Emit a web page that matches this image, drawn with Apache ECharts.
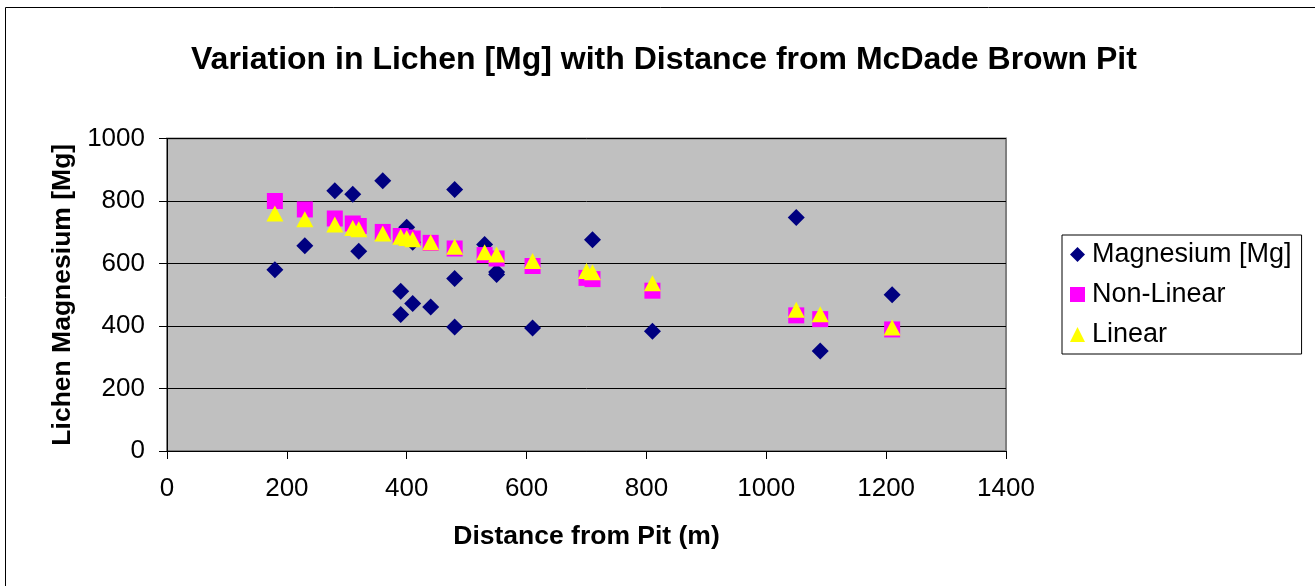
<!DOCTYPE html>
<html>
<head>
<meta charset="utf-8">
<script src="https://cdn.jsdelivr.net/npm/echarts@6/dist/echarts.min.js"></script>
<style>
  html, body { margin: 0; padding: 0; background: #ffffff; }
  #chart { width: 1315px; height: 586px; }
</style>
</head>
<body>
<div id="chart"></div>
<script>
// Measured lichen magnesium against distance from the pit
const mgDistance = [180, 230, 280, 310, 320, 360, 390, 390, 400, 410, 410, 440, 480, 480, 480, 530, 550, 550, 610, 710, 810, 1050, 1090, 1210];
const mgValue    = [580, 657, 833, 822, 639, 865, 511, 437, 716, 668, 472, 461, 837, 552, 397, 661, 573, 565, 394, 676, 383, 747, 320, 500];

// Fitted models evaluated at the sampled distances
const fitDistance    = [180, 230, 280, 310, 320, 360, 390, 400, 410, 440, 480, 530, 550, 610, 700, 710, 810, 1050, 1090, 1210];
const nonLinearValue = [800, 773, 744, 728, 720, 701, 688, 683, 680, 666, 648, 627, 616, 592, 554, 550, 513, 434, 422, 389];
const linearValue    = [760, 742, 725, 714, 710, 696, 686, 682, 678, 668, 654, 636, 629, 608, 576, 572, 537, 452, 438, 395];

const seriesNames = ['Magnesium [Mg]', 'Non-Linear', 'Linear'];
const xTicks = { min: 0, max: 1400, interval: 200 };
const yTicks = { min: 0, max: 1000, interval: 200 };

const FONT = '"Liberation Sans", Arial, Helvetica, sans-serif';

function pairs(xs, ys) {
  return xs.map((x, i) => [x, ys[i]]);
}

// plain integers, no thousands separator
const plain = (v) => String(v);

const chart = echarts.init(document.getElementById('chart'), null, { renderer: 'canvas' });

chart.setOption({
  backgroundColor: '#ffffff',
  animation: false,
  title: {
    text: 'Variation in Lichen [Mg] with Distance from McDade Brown Pit',
    left: 186,
    top: 39,
    textStyle: { fontFamily: FONT, fontSize: 32, fontWeight: 'bold', color: '#000000' }
  },
  graphic: [
    {
      // outer chart frame
      type: 'rect',
      silent: true,
      z: -10,
      shape: { x: 5.5, y: 7.5, width: 1330, height: 600 },
      style: { fill: 'none', stroke: '#000000', lineWidth: 1 }
    }
  ],
  legend: {
    orient: 'vertical',
    left: 1062,
    top: 235,
    data: seriesNames,
    backgroundColor: '#ffffff',
    borderColor: '#000000',
    borderWidth: 1,
    padding: [6, 10, 6, 8],
    itemGap: 13,
    itemWidth: 15,
    itemHeight: 15,
    textStyle: { fontFamily: FONT, fontSize: 27, color: '#000000', lineHeight: 27, padding: [0, 0, 0, 2] }
  },
  grid: {
    left: 167,
    right: 309,
    top: 138.5,
    bottom: 135,
    show: true,
    backgroundColor: '#C0C0C0',
    borderColor: '#808080',
    borderWidth: 2
  },
  xAxis: {
    type: 'value',
    min: xTicks.min,
    max: xTicks.max,
    interval: xTicks.interval,
    name: 'Distance from Pit (m)',
    nameLocation: 'middle',
    nameGap: 72,
    nameTextStyle: { fontFamily: FONT, fontSize: 26.5, fontWeight: 'bold', color: '#000000' },
    axisLine: { show: true, onZero: false, lineStyle: { color: '#000000', width: 1 } },
    axisTick: { show: true, inside: false, length: 8, lineStyle: { color: '#000000' } },
    axisLabel: { fontFamily: FONT, fontSize: 26, color: '#000000', margin: 25, formatter: plain },
    splitLine: { show: false }
  },
  yAxis: {
    type: 'value',
    min: yTicks.min,
    max: yTicks.max,
    interval: yTicks.interval,
    name: 'Lichen Magnesium [Mg]',
    nameLocation: 'middle',
    nameRotate: 90,
    nameGap: 89,
    nameTextStyle: { fontFamily: FONT, fontSize: 26.5, fontWeight: 'bold', color: '#000000' },
    axisLine: { show: true, onZero: false, lineStyle: { color: '#000000', width: 1 } },
    axisTick: { show: true, inside: false, length: 8, lineStyle: { color: '#000000' } },
    axisLabel: { fontFamily: FONT, fontSize: 26, color: '#000000', margin: 22, formatter: plain },
    splitLine: { show: true, lineStyle: { color: '#000000', width: 1 } }
  },
  series: [
    {
      name: seriesNames[0],
      type: 'scatter',
      symbol: 'diamond',
      symbolSize: 17,
      itemStyle: { color: '#000080', opacity: 1 },
      z: 2,
      data: pairs(mgDistance, mgValue)
    },
    {
      name: seriesNames[1],
      type: 'scatter',
      symbol: 'rect',
      symbolSize: 16,
      itemStyle: { color: '#FF00FF', opacity: 1 },
      z: 3,
      data: pairs(fitDistance, nonLinearValue)
    },
    {
      name: seriesNames[2],
      type: 'scatter',
      symbol: 'triangle',
      symbolSize: [17, 16],
      itemStyle: { color: '#FFFF00', opacity: 1 },
      z: 4,
      data: pairs(fitDistance, linearValue)
    }
  ]
});
</script>
</body>
</html>
